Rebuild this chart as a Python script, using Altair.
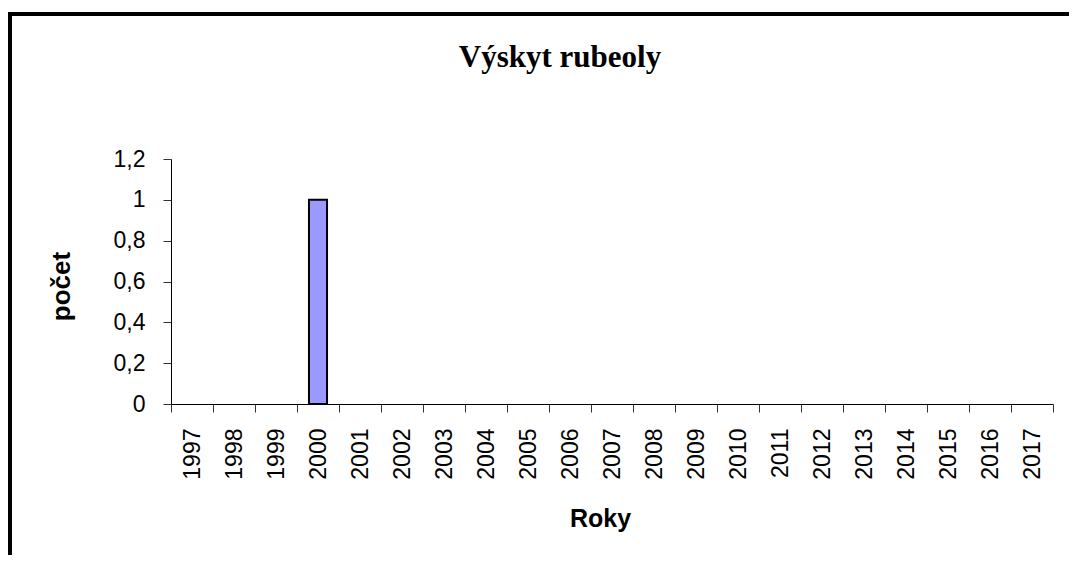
import altair as alt
import pandas as pd

years = [str(y) for y in range(1997, 2018)]
counts = [0, 0, 0, 1, 0, 0, 0, 0, 0, 0, 0, 0, 0, 0, 0, 0, 0, 0, 0, 0, 0]
y_ticks = [0, 0.2, 0.4, 0.6, 0.8, 1.0, 1.2]

title_text = "Výskyt rubeoly"
x_title = "Roky"
y_title = "počet"

df = pd.DataFrame({"rok": years, "pocet": counts})

W, H = 882, 245
PAD_L, PAD_T, PAD_R, PAD_B = 163, 151, 16, 151

x_enc = alt.X(
    "rok:N",
    scale=alt.Scale(domain=years, paddingInner=0, paddingOuter=0),
    axis=alt.Axis(
        title=x_title,
        tickBand="extent",
        tickSize=8,
        tickColor="#333333",
        domainColor="#000000",
        labelAngle=270,
        labelAlign="right",
        labelBaseline="middle",
        labelPadding=16,
        labelFont="Liberation Sans",
        labelFontSize=23,
        labelColor="#000000",
        titleFont="Liberation Sans",
        titleFontSize=25,
        titleFontWeight="bold",
        titleColor="#000000",
        titleX=429,
        titleY=122,
        titleBaseline="alphabetic",
        titleAlign="center",
        grid=False,
    ),
)

y_enc = alt.Y(
    "pocet:Q",
    scale=alt.Scale(domain=[0, 1.2], nice=False),
    axis=alt.Axis(
        title=y_title,
        values=y_ticks,
        labelExpr="replace(format(datum.value, '.1~f'), '.', ',')",
        tickSize=8,
        tickColor="#333333",
        domainColor="#000000",
        labelPadding=18,
        labelFont="Liberation Sans",
        labelFontSize=23,
        labelColor="#000000",
        titleFont="Liberation Sans",
        titleFontSize=26,
        titleFontWeight="bold",
        titleColor="#000000",
        titleAngle=270,
        titleX=-110,
        titleY=127,
        titleAlign="center",
        titleBaseline="middle",
        grid=False,
    ),
)

bars = (
    alt.Chart(df)
    .transform_filter("datum.pocet > 0")
    .mark_bar(width={"band": 0.43}, color="#9999FF", stroke="#000000", strokeWidth=2)
    .encode(x=x_enc, y=y_enc)
)

frame_left = alt.Chart(df).mark_rule(color="#000000", strokeWidth=3).encode(
    x=alt.value(-161), y=alt.value(-146), y2=alt.value(H + PAD_B)
)
frame_top = alt.Chart(df).mark_rule(color="#000000", strokeWidth=3).encode(
    x=alt.value(-162.5), x2=alt.value(W + PAD_R), y=alt.value(-145)
)

chart = (
    alt.layer(bars, frame_left, frame_top)
    .properties(
        width=W,
        height=H,
        autosize=alt.AutoSizeParams(type="none"),
        padding={"left": PAD_L, "top": PAD_T, "right": PAD_R, "bottom": PAD_B},
        title=alt.TitleParams(
            title_text,
            font="Liberation Serif",
            fontSize=31,
            fontWeight="bold",
            color="#000000",
            anchor="middle",
            frame="group",
            dx=-52,
            dy=62,
            offset=0,
        ),
        background="#ffffff",
    )
    .configure_view(stroke=None)
)

chart.save("out.html", embed_options={"renderer": "svg", "actions": False})
